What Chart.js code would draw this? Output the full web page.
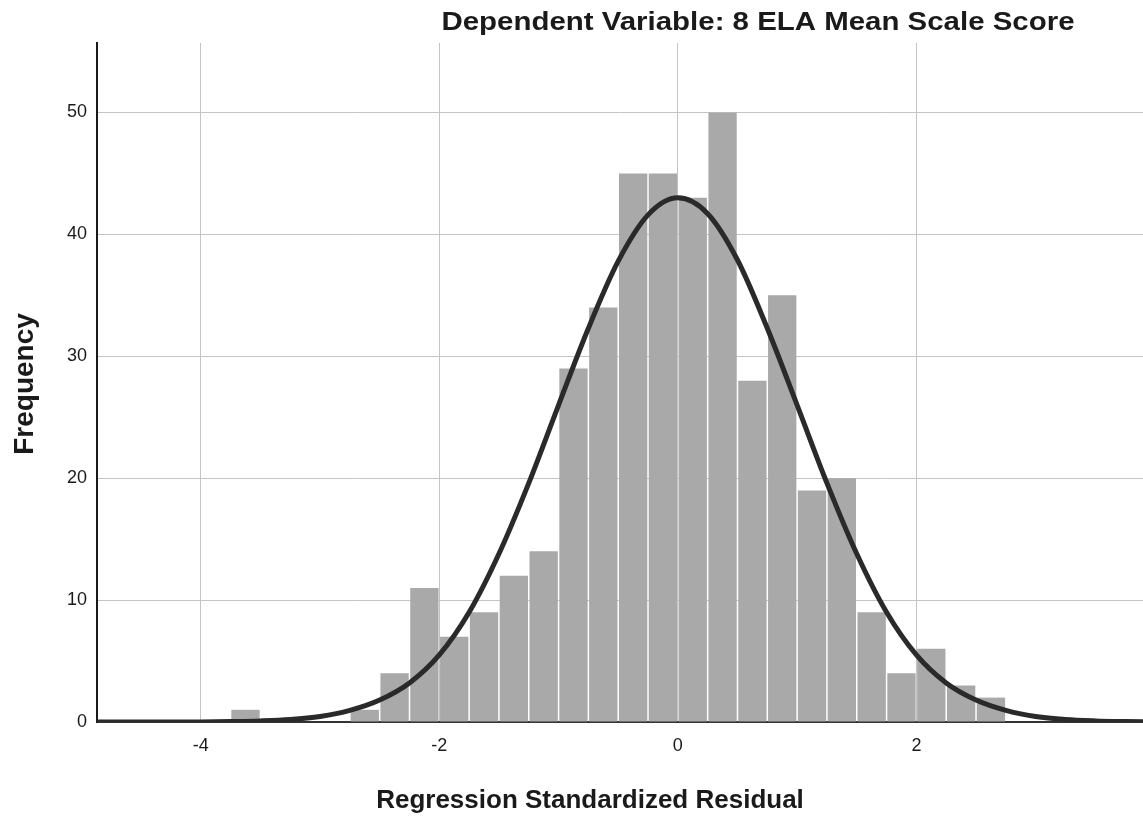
<!DOCTYPE html>
<html>
<head>
<meta charset="utf-8">
<script src="https://cdn.jsdelivr.net/npm/chart.js@4/dist/chart.umd.min.js"></script>
<style>
  html, body { margin: 0; padding: 0; background: #ffffff; }
  #wrap { position: relative; width: 1143px; height: 816px; }
</style>
</head>
<body>
<div id="wrap"><canvas id="c"></canvas></div>
<script>
// ---- Data ----
const chartTitle = "Dependent Variable: 8 ELA Mean Scale Score";
const xAxisTitle = "Regression Standardized Residual";
const yAxisTitle = "Frequency";

const binCenters = [-3.625, -2.625, -2.375, -2.125, -1.875, -1.625, -1.375, -1.125,
  -0.875, -0.625, -0.375, -0.125, 0.125, 0.375, 0.625, 0.875, 1.125, 1.375,
  1.625, 1.875, 2.125, 2.375, 2.625];
const binCounts = [1, 1, 4, 11, 7, 9, 12, 14, 29, 34, 45, 45, 43, 50, 28, 35, 19, 20, 9, 4, 6, 3, 2];

const curveX = [-5, -4.75, -4.5, -4.25, -4, -3.75, -3.5, -3.25, -3, -2.75, -2.5, -2.25, -2,
  -1.75, -1.5, -1.25, -1, -0.75, -0.5, -0.25, 0, 0.25, 0.5, 0.75, 1, 1.25, 1.5, 1.75,
  2, 2.25, 2.5, 2.75, 3, 3.25, 3.5, 3.75, 4];
const curveY = [0, 0, 0, 0, 0.01, 0.04, 0.09, 0.2, 0.45, 0.95, 1.8, 3.2, 5.5,
  9.0, 13.8, 19.6, 26.0, 32.3, 37.8, 41.6, 43.0, 41.7, 37.9, 32.3, 26.0, 19.6, 13.8, 9.0,
  5.5, 3.2, 1.8, 0.95, 0.45, 0.2, 0.09, 0.04, 0.01];

const xTicks = [-4, -2, 0, 2];
const yTicks = [0, 10, 20, 30, 40, 50];

const FONT = '"Liberation Sans", Arial, Helvetica, sans-serif';

const textPlugin = {
  id: 'texts',
  afterDraw(chart) {
    const ctx = chart.ctx;
    ctx.save();
    ctx.fillStyle = '#1a1a1a';
    // title (scanned title is slightly wide)
    ctx.font = 'bold 26px ' + FONT;
    ctx.textAlign = 'center';
    ctx.textBaseline = 'alphabetic';
    const tw = ctx.measureText(chartTitle).width;
    const sx = 633 / tw;
    ctx.save();
    ctx.translate(758, 30);
    ctx.scale(sx, 1);
    ctx.fillText(chartTitle, 0, 0);
    ctx.restore();
    // x axis title
    ctx.font = 'bold 26px ' + FONT;
    ctx.fillText(xAxisTitle, 590, 808);
    // y axis title
    ctx.font = 'bold 28px ' + FONT;
    ctx.save();
    ctx.translate(33, 384);
    ctx.rotate(-Math.PI / 2);
    ctx.fillText(yAxisTitle, 0, 0);
    ctx.restore();
    ctx.restore();
  }
};

new Chart(document.getElementById('c'), {
  type: 'bar',
  data: {
    datasets: [
      {
        type: 'line',
        data: curveX.map((x, i) => ({ x: x, y: curveY[i] })),
        borderColor: '#2a2a2a',
        borderWidth: 5,
        pointRadius: 0,
        fill: false,
        cubicInterpolationMode: 'monotone',
        order: 0
      },
      {
        type: 'bar',
        data: binCenters.map((x, i) => ({ x: x, y: binCounts[i] })),
        backgroundColor: '#a9a9a9',
        borderWidth: 0,
        categoryPercentage: 1,
        barPercentage: 0.95,
        order: 1
      }
    ]
  },
  options: {
    responsive: true,
    maintainAspectRatio: false,
    animation: false,
    layout: { padding: { top: 43, left: 0, right: 0, bottom: 0 } },
    plugins: { legend: { display: false }, tooltip: { enabled: false }, title: { display: false } },
    scales: {
      x: {
        type: 'linear',
        min: -4.87,
        max: 3.9,
        offset: false,
        grid: { color: '#c4c4c4', lineWidth: 1, drawTicks: false, offset: false },
        border: { color: '#333333', width: 2 },
        ticks: {
          padding: 13,
          color: '#1a1a1a',
          font: { family: FONT, size: 18 },
          callback: (v) => String(v)
        },
        afterBuildTicks: (scale) => { scale.ticks = xTicks.map(v => ({ value: v })); },
        afterFit: (scale) => { scale.height = 94; }
      },
      y: {
        type: 'linear',
        min: 0,
        max: 55.7,
        grid: { color: '#c4c4c4', lineWidth: 1, drawTicks: false },
        border: { color: '#1a1a1a', width: 2 },
        ticks: {
          padding: 10,
          color: '#1a1a1a',
          font: { family: FONT, size: 18 },
          callback: (v) => String(v)
        },
        afterBuildTicks: (scale) => { scale.ticks = yTicks.map(v => ({ value: v })); },
        afterFit: (scale) => { scale.width = 97; }
      }
    }
  },
  plugins: [textPlugin]
});
</script>
</body>
</html>
